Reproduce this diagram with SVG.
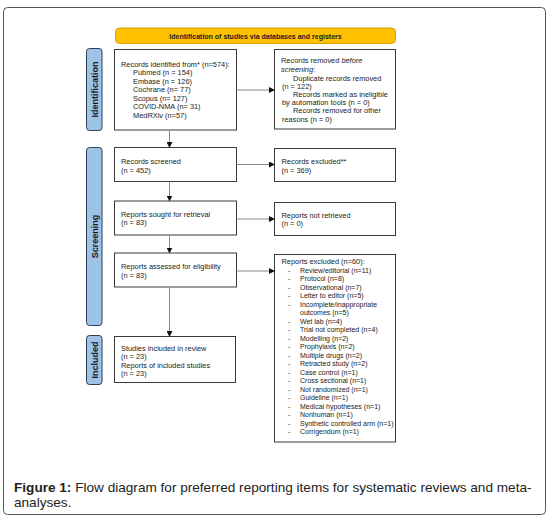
<svg xmlns="http://www.w3.org/2000/svg" width="556" height="523" viewBox="0 0 556 523">
<style>
.bg{fill:#ffffff}
.frame{fill:#ffffff;stroke:#555555;stroke-width:1}
.box{fill:#ffffff;stroke:#3a3a3a;stroke-width:1}
.side{fill:#9dc3e6;stroke:#2e3f55;stroke-width:1}
.banner{fill:#ffc000;stroke:#d9a100;stroke-width:1}
.t{font-family:"Liberation Sans",Arial,sans-serif;font-size:7.4px;fill:#222222}
.ti{font-family:"Liberation Sans",Arial,sans-serif;font-size:7px;fill:#222222}
.tb{font-family:"Liberation Sans",Arial,sans-serif;font-size:7px;font-weight:bold;fill:#222222}
.sl{font-family:"Liberation Sans",Arial,sans-serif;font-size:9px;font-weight:bold;fill:#1a1a1a}
.cap{font-family:"Liberation Sans",Arial,sans-serif;font-size:13.6px;fill:#222222}
.conn{fill:none;stroke:#8a8a8a;stroke-width:1}
</style>
<defs>
<marker id="ah" markerWidth="6" markerHeight="6" refX="5" refY="3" orient="auto" markerUnits="userSpaceOnUse">
<path d="M0,0 L6,3 L0,6 Z" fill="#111111"/>
</marker>
</defs>
<rect class="bg" x="0" y="0" width="556" height="523"/>
<rect class="frame" x="3.5" y="7.5" width="542" height="507" rx="4"/>

<g id="banner">
<rect class="banner" x="115.5" y="28" width="280" height="15.5" rx="4"/>
<text class="tb" x="255.5" y="38.5" text-anchor="middle">Identification of studies via databases and registers</text>
</g>

<g id="label-identification">
<rect class="side" x="86.5" y="48.5" width="15.5" height="82" rx="3"/>
<text class="sl" transform="translate(97.5,89.5) rotate(-90)" text-anchor="middle">Identification</text>
</g>
<g id="label-screening">
<rect class="side" x="86.5" y="147.5" width="15.5" height="178" rx="3"/>
<text class="sl" transform="translate(97.5,236.5) rotate(-90)" text-anchor="middle">Screening</text>
</g>
<g id="label-included">
<rect class="side" x="86.5" y="335.5" width="15.5" height="49" rx="3"/>
<text class="sl" transform="translate(97.5,360) rotate(-90)" text-anchor="middle">Included</text>
</g>

<g id="records-identified">
<rect class="box" x="114.5" y="49.5" width="122" height="80.5"/>
<text class="t" x="121" y="66.5">Records identified from* (n=574):</text>
<text class="t" x="133" y="75">Pubmed (n = 154)</text>
<text class="t" x="133" y="83.5">Embase (n = 126)</text>
<text class="t" x="133" y="92">Cochrane (n= 77)</text>
<text class="t" x="133" y="100.5">Scopus (n= 127)</text>
<text class="t" x="133" y="109">COVID-NMA (n= 31)</text>
<text class="t" x="133" y="117.5">MedRXiv (n=57)</text>
</g>

<g id="records-removed">
<rect class="box" x="274.5" y="49.5" width="121" height="79.5"/>
<text class="t" x="281" y="62.5">Records removed <tspan style="font-style:italic">before</tspan></text>
<text class="t" x="281" y="71.5"><tspan style="font-style:italic">screening</tspan>:</text>
<text class="t" x="293" y="80.5">Duplicate records removed</text>
<text class="t" x="282" y="88.5">(n = 122)</text>
<text class="t" x="293" y="96.5">Records marked as ineligible</text>
<text class="t" x="282" y="104.5">by automation tools (n = 0)</text>
<text class="t" x="293" y="113">Records removed for other</text>
<text class="t" x="282" y="122">reasons (n = 0)</text>
</g>

<g id="records-screened">
<rect class="box" x="114.5" y="147.5" width="122" height="34"/>
<text class="t" x="121" y="164">Records screened</text>
<text class="t" x="121" y="173">(n = 452)</text>
</g>

<g id="records-excluded">
<rect class="box" x="274.5" y="148.5" width="121" height="33"/>
<text class="t" x="281.5" y="163.5">Records excluded**</text>
<text class="t" x="281.5" y="172.5">(n = 369)</text>
</g>

<g id="reports-sought">
<rect class="box" x="114.5" y="201" width="122" height="34"/>
<text class="t" x="121" y="216.5">Reports sought for retrieval</text>
<text class="t" x="121" y="225">(n = 83)</text>
</g>

<g id="reports-not-retrieved">
<rect class="box" x="274.5" y="202.5" width="121" height="33"/>
<text class="t" x="281.5" y="217.5">Reports not retrieved</text>
<text class="t" x="281.5" y="226">(n = 0)</text>
</g>

<g id="reports-assessed">
<rect class="box" x="114.5" y="253" width="122" height="34"/>
<text class="t" x="121" y="269">Reports assessed for eligibility</text>
<text class="t" x="121" y="277.5">(n = 83)</text>
</g>

<g id="reports-excluded">
<rect class="box" x="274.5" y="254.5" width="121" height="187.5"/>
<text class="t" x="281.5" y="264">Reports excluded (n=60):</text>
<g class="ti">
<text x="288" y="272.5">-</text><text x="300" y="272.5">Review/editorial (n=11)</text>
<text x="288" y="281">-</text><text x="300" y="281">Protocol (n=8)</text>
<text x="288" y="289.5">-</text><text x="300" y="289.5">Observational (n=7)</text>
<text x="288" y="298">-</text><text x="300" y="298">Letter to editor (n=5)</text>
<text x="288" y="306.5">-</text><text x="300" y="306.5">Incomplete/inappropriate</text>
<text x="300" y="315">outcomes (n=5)</text>
<text x="288" y="323.5">-</text><text x="300" y="323.5">Wet lab (n=4)</text>
<text x="288" y="332">-</text><text x="300" y="332">Trial not completed (n=4)</text>
<text x="288" y="340.5">-</text><text x="300" y="340.5">Modelling (n=2)</text>
<text x="288" y="349">-</text><text x="300" y="349">Prophylaxis (n=2)</text>
<text x="288" y="357.5">-</text><text x="300" y="357.5">Multiple drugs (n=2)</text>
<text x="288" y="366">-</text><text x="300" y="366">Retracted study (n=2)</text>
<text x="288" y="374.5">-</text><text x="300" y="374.5">Case control (n=1)</text>
<text x="288" y="383">-</text><text x="300" y="383">Cross sectional (n=1)</text>
<text x="288" y="391.5">-</text><text x="300" y="391.5">Not randomized (n=1)</text>
<text x="288" y="400">-</text><text x="300" y="400">Guideline (n=1)</text>
<text x="288" y="408.5">-</text><text x="300" y="408.5">Medical hypotheses (n=1)</text>
<text x="288" y="417">-</text><text x="300" y="417">Nonhuman (n=1)</text>
<text x="288" y="425.5">-</text><text x="300" y="425.5">Synthetic controlled arm (n=1)</text>
<text x="288" y="434">-</text><text x="300" y="434">Corrigendum (n=1)</text>
</g>
</g>

<g id="studies-included">
<rect class="box" x="114.5" y="336.5" width="121" height="46"/>
<text class="t" x="121" y="351">Studies included in review</text>
<text class="t" x="121" y="359">(n = 23)</text>
<text class="t" x="121" y="367.5">Reports of included studies</text>
<text class="t" x="121" y="376">(n = 23)</text>
</g>

<g id="connectors">
<line class="conn" x1="236.5" y1="90" x2="274" y2="90" marker-end="url(#ah)"/>
<line class="conn" x1="169.5" y1="130" x2="169.5" y2="147" marker-end="url(#ah)"/>
<line class="conn" x1="236.5" y1="164.5" x2="274" y2="164.5" marker-end="url(#ah)"/>
<line class="conn" x1="169.5" y1="181.5" x2="169.5" y2="200.5" marker-end="url(#ah)"/>
<line class="conn" x1="236.5" y1="219" x2="274" y2="219" marker-end="url(#ah)"/>
<line class="conn" x1="169.5" y1="235" x2="169.5" y2="252.5" marker-end="url(#ah)"/>
<line class="conn" x1="236.5" y1="271" x2="274" y2="271" marker-end="url(#ah)"/>
<line class="conn" x1="169.5" y1="287" x2="169.5" y2="336" marker-end="url(#ah)"/>
</g>

<g id="caption">
<text class="cap" x="14" y="491.5"><tspan font-weight="bold">Figure 1:</tspan> Flow diagram for preferred reporting items for systematic reviews and meta-</text>
<text class="cap" x="14" y="506.5">analyses.</text>
</g>
</svg>
